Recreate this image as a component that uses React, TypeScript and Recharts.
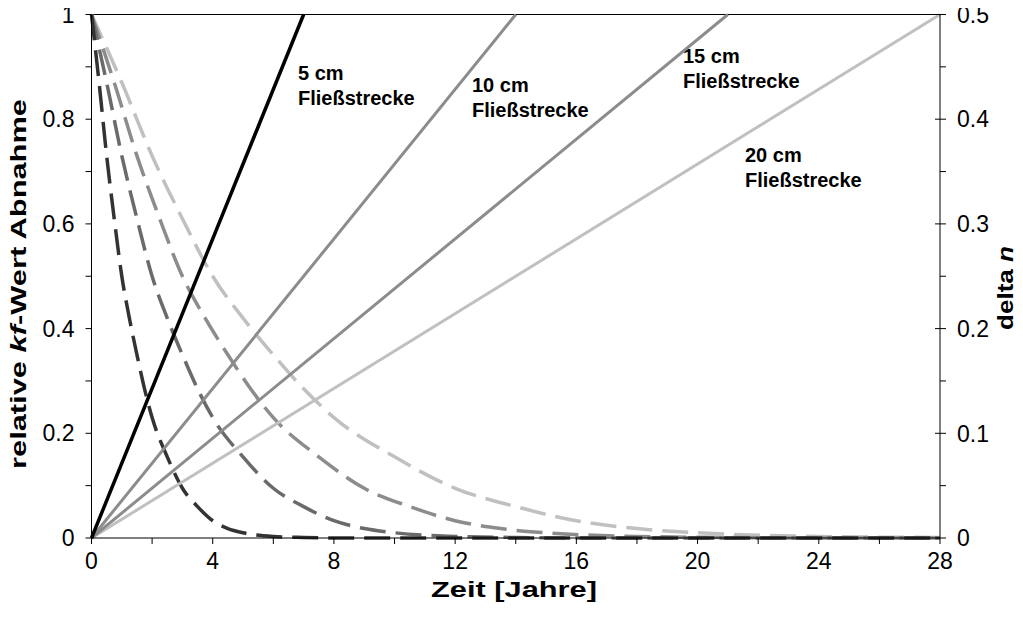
import React from 'react';
import { LineChart, Line, XAxis, YAxis, ReferenceLine } from 'recharts';

const FONT = '"Liberation Sans", Arial, Helvetica, sans-serif';

// relative kf-Wert Abnahme (left axis), one curve per Fließstrecke
const kf5cm = [
  { t: 0, v: 1 }, { t: 0.25, v: 0.87 }, { t: 0.5, v: 0.73 }, { t: 0.75, v: 0.61 },
  { t: 1, v: 0.5 }, { t: 1.25, v: 0.42 }, { t: 1.5, v: 0.35 }, { t: 1.75, v: 0.285 },
  { t: 2, v: 0.23 }, { t: 2.5, v: 0.155 }, { t: 3, v: 0.095 }, { t: 3.5, v: 0.06 },
  { t: 4, v: 0.033 }, { t: 4.5, v: 0.018 }, { t: 5, v: 0.01 }, { t: 6, v: 0.003 },
  { t: 7, v: 0.001 }, { t: 8, v: 0 }, { t: 28, v: 0 },
];
const kf10cm = [
  { t: 0, v: 1 }, { t: 0.5, v: 0.87 }, { t: 1, v: 0.73 }, { t: 1.5, v: 0.61 },
  { t: 2, v: 0.5 }, { t: 2.5, v: 0.42 }, { t: 3, v: 0.35 }, { t: 3.5, v: 0.285 },
  { t: 4, v: 0.23 }, { t: 5, v: 0.155 }, { t: 6, v: 0.095 }, { t: 7, v: 0.06 },
  { t: 8, v: 0.033 }, { t: 9, v: 0.018 }, { t: 10, v: 0.01 }, { t: 12, v: 0.003 },
  { t: 14, v: 0.001 }, { t: 16, v: 0 }, { t: 28, v: 0 },
];
const kf15cm = [
  { t: 0, v: 1 }, { t: 0.75, v: 0.87 }, { t: 1.5, v: 0.73 }, { t: 2.25, v: 0.61 },
  { t: 3, v: 0.5 }, { t: 3.75, v: 0.42 }, { t: 4.5, v: 0.35 }, { t: 5.25, v: 0.285 },
  { t: 6, v: 0.23 }, { t: 7.5, v: 0.155 }, { t: 9, v: 0.095 }, { t: 10.5, v: 0.06 },
  { t: 12, v: 0.033 }, { t: 13.5, v: 0.018 }, { t: 15, v: 0.01 }, { t: 18, v: 0.003 },
  { t: 21, v: 0.001 }, { t: 24, v: 0 }, { t: 28, v: 0 },
];
const kf20cm = [
  { t: 0, v: 1 }, { t: 1, v: 0.87 }, { t: 2, v: 0.73 }, { t: 3, v: 0.61 },
  { t: 4, v: 0.5 }, { t: 5, v: 0.42 }, { t: 6, v: 0.35 }, { t: 7, v: 0.285 },
  { t: 8, v: 0.23 }, { t: 10, v: 0.155 }, { t: 12, v: 0.095 }, { t: 14, v: 0.06 },
  { t: 16, v: 0.033 }, { t: 18, v: 0.018 }, { t: 20, v: 0.01 }, { t: 24, v: 0.003 },
  { t: 28, v: 0.001 },
];

// delta n (right axis)
const dn5cm = [{ t: 0, v: 0 }, { t: 7, v: 0.5 }];
const dn10cm = [{ t: 0, v: 0 }, { t: 14, v: 0.5 }];
const dn15cm = [{ t: 0, v: 0 }, { t: 21, v: 0.5 }];
const dn20cm = [{ t: 0, v: 0 }, { t: 28, v: 0.5 }];

const yearTicks = [0, 2, 4, 6, 8, 10, 12, 14, 16, 18, 20, 22, 24, 26, 28];
const kfTicks = [0, 0.1, 0.2, 0.3, 0.4, 0.5, 0.6, 0.7, 0.8, 0.9, 1];
const dnTicks = [0, 0.05, 0.1, 0.15, 0.2, 0.25, 0.3, 0.35, 0.4, 0.45, 0.5];

const tickStyle = { fontFamily: FONT, fontSize: 23, fill: '#000' };
const noteStyle = { fontFamily: FONT, fontSize: 20, fontWeight: 700, fill: '#000' };
const titleStyle = { fontFamily: FONT, fontSize: 22, fontWeight: 700, fill: '#000' };

const RightTick = (props: any) => {
  const { x, y, payload } = props;
  const major = Math.round(payload.value * 100) % 10 === 0;
  if (!major) return null;
  const axisX = x - 6 - 11;
  return (
    <g>
      <line x1={axisX - 5} x2={axisX} y1={y} y2={y} stroke="#000" strokeWidth={1} />
      <text x={x} y={y} dy="0.36em" textAnchor="start" {...tickStyle}>{String(payload.value)}</text>
    </g>
  );
};

const Note = ({ x, y, lines }: { x: number; y: number; lines: string[] }) => (
  <text x={x} y={y} {...noteStyle}>
    {lines.map((l, i) => (
      <tspan key={i} x={x} dy={i === 0 ? 0 : 25}>{l}</tspan>
    ))}
  </text>
);

export default function App() {
  return (
    <div style={{ margin: -8 }}>
      <LineChart width={1023} height={630} margin={{ top: 14.5, right: 0, bottom: 0, left: 0 }}>
        <XAxis
          dataKey="t"
          type="number"
          domain={[0, 28]}
          ticks={yearTicks}
          interval={0}
          height={92}
          stroke="#000"
          tickSize={6}
          tickMargin={9}
          tick={tickStyle}
          tickFormatter={(v: number) => (v % 4 === 0 ? String(v) : '')}
        />
        <YAxis
          yAxisId="left"
          domain={[0, 1]}
          ticks={kfTicks}
          interval={0}
          width={91.5}
          stroke="#000"
          tickSize={6}
          tickMargin={11}
          tick={tickStyle}
          tickFormatter={(v: number) => (Math.round(v * 10) % 2 === 0 ? String(v) : '')}
        />
        <YAxis
          yAxisId="right"
          orientation="right"
          domain={[0, 0.5]}
          ticks={dnTicks}
          interval={0}
          width={83}
          stroke="#000"
          tickSize={6}
          tickMargin={11}
          tick={<RightTick />}
        />
        <ReferenceLine yAxisId="left" y={1} stroke="#000" strokeWidth={1} />

        <Line yAxisId="left" data={kf20cm} dataKey="v" type="monotone" stroke="#c0c0c0" strokeWidth={3.5} strokeDasharray="26 10" dot={false} isAnimationActive={false} />
        <Line yAxisId="left" data={kf15cm} dataKey="v" type="monotone" stroke="#8c8c8c" strokeWidth={3.5} strokeDasharray="26 10" dot={false} isAnimationActive={false} />
        <Line yAxisId="left" data={kf10cm} dataKey="v" type="monotone" stroke="#6a6a6a" strokeWidth={3.5} strokeDasharray="26 10" dot={false} isAnimationActive={false} />
        <Line yAxisId="left" data={kf5cm} dataKey="v" type="monotone" stroke="#333333" strokeWidth={3.5} strokeDasharray="26 10" dot={false} isAnimationActive={false} />

        <Line yAxisId="right" data={dn20cm} dataKey="v" type="linear" stroke="#c0c0c0" strokeWidth={3} dot={false} isAnimationActive={false} />
        <Line yAxisId="right" data={dn15cm} dataKey="v" type="linear" stroke="#8c8c8c" strokeWidth={3} dot={false} isAnimationActive={false} />
        <Line yAxisId="right" data={dn10cm} dataKey="v" type="linear" stroke="#8c8c8c" strokeWidth={3} dot={false} isAnimationActive={false} />
        <Line yAxisId="right" data={dn5cm} dataKey="v" type="linear" stroke="#000000" strokeWidth={3.5} dot={false} isAnimationActive={false} />

        <Note x={298} y={80} lines={['5 cm', 'Fließstrecke']} />
        <Note x={472} y={92} lines={['10 cm', 'Fließstrecke']} />
        <Note x={683} y={63} lines={['15 cm', 'Fließstrecke']} />
        <Note x={745} y={162} lines={['20 cm', 'Fließstrecke']} />

        <text x={514} y={597} textAnchor="middle" textLength={166} lengthAdjust="spacingAndGlyphs" {...titleStyle}>
          Zeit [Jahre]
        </text>
        <text transform="translate(26, 284) rotate(-90)" textAnchor="middle" textLength={370} lengthAdjust="spacingAndGlyphs" {...titleStyle}>
          relative <tspan fontStyle="italic">kf</tspan>-Wert Abnahme
        </text>
        <text transform="translate(1013, 288) rotate(-90)" textAnchor="middle" textLength={84} lengthAdjust="spacingAndGlyphs" {...titleStyle}>
          delta <tspan fontStyle="italic">n</tspan>
        </text>
      </LineChart>
    </div>
  );
}
